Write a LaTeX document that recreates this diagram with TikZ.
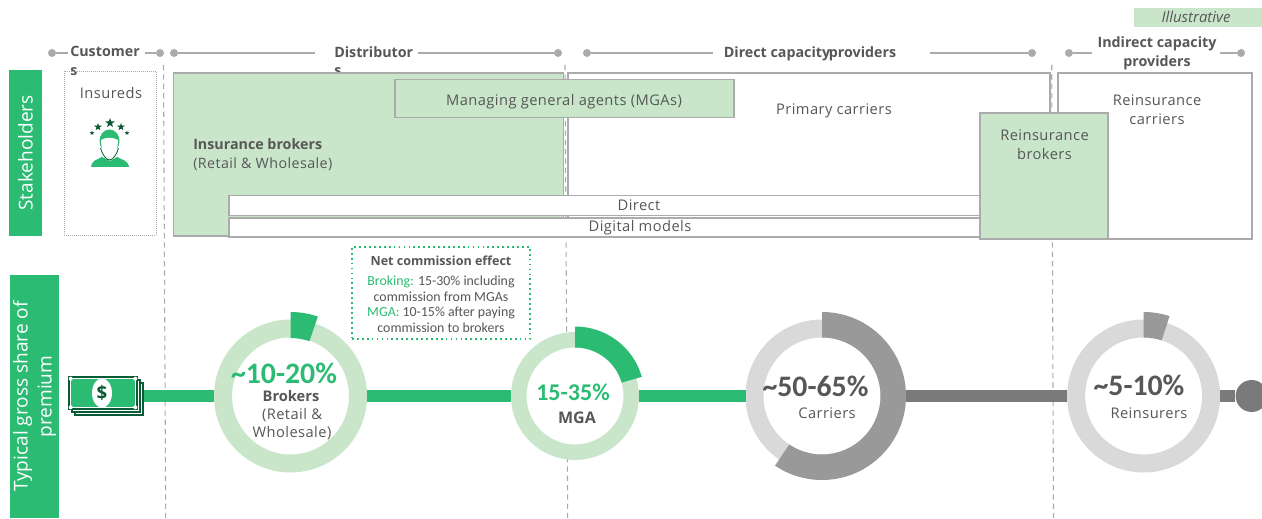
\documentclass[tikz,border=0pt]{standalone}
\usepackage{fontspec}
\setmainfont{Open Sans}
\newfontfamily\calfont{Carlito}
\newfontfamily\capfont[LetterSpace=3]{Open Sans}
\usepackage{tikz}
\usetikzlibrary{calc,positioning,shapes.geometric}
\definecolor{bcggreen}{HTML}{2BBB73}
\definecolor{palegreen}{HTML}{C9E6CB}
\definecolor{deepgreen}{HTML}{0B5A36}
\definecolor{inktext}{HTML}{575757}
\definecolor{boxline}{HTML}{ABABAB}
\definecolor{ringlight}{HTML}{D9D9D9}
\definecolor{ringdark}{HTML}{999999}
\definecolor{bandgray}{HTML}{7A7A7A}
\tikzset{wh/.style 2 args={minimum width=#1*0.75pt, minimum height=#2*0.75pt}}
\tikzstyle{sidebar} = [fill=bcggreen, text=white, rotate=90, inner sep=0pt, align=center, font=\fontsize{14.3}{18}\selectfont]
\tikzstyle{plainbox} = [rectangle, draw=boxline, fill=white, line width=0.9pt, inner sep=0pt]
\tikzstyle{greenbox} = [rectangle, draw=boxline, fill=palegreen, line width=0.9pt, inner sep=0pt]
\tikzstyle{caption} = [text=inktext, align=center, inner sep=0pt, font=\fontsize{11}{14}\selectfont\capfont]
\tikzstyle{heading} = [text=inktext, align=left, inner sep=0pt, font=\fontsize{10.7}{14}\selectfont\bfseries]
\tikzstyle{hdot} = [circle, fill=boxline, minimum size=6pt, inner sep=0pt]
\tikzstyle{hline} = [draw=boxline, line width=0.9pt]
\tikzstyle{divider} = [draw=boxline, line width=0.8pt, dash pattern=on 4pt off 3pt]
\tikzstyle{ring} = [circle, fill=white, line width=13.5pt, minimum size=101.25pt, inner sep=0pt]
\tikzstyle{band} = [line width=8.5pt, draw=bcggreen]
\tikzstyle{grayband} = [line width=8.5pt, draw=bandgray]
\tikzstyle{bill} = [rectangle, draw=deepgreen, fill=white, line width=0.9pt, inner sep=0pt]
\tikzstyle{bigpct} = [inner sep=0pt, font=\fontsize{22.3}{24}\selectfont\calfont\bfseries]
\tikzstyle{starmark} = [star, star points=5, star point ratio=2.4, fill=deepgreen, inner sep=0pt]
\newcommand{\ringpart}[6]{
	\fill[#6] ($(#1.center)+(#2:#5)$) arc (#2:#3:#5) -- ($(#1.center)+(#3:#4)$) arc (#3:#2:#4) -- cycle;
}
\begin{document}
\begin{tikzpicture}[x=0.75pt, y=0.75pt]
	\clip (0,0) rectangle (1262,518);
	\fill[white] (0,0) rectangle (1262,518);

	% dividers
	\coordinate (divAtop) at (163.5,453);
	\coordinate (divAbot) at (165.7,0);
	\coordinate (divBtop) at (565,453);
	\coordinate (divBbot) at (567.7,0);
	\coordinate (divCtop) at (1051.7,453);
	\coordinate (divCbot) at (1053.5,0);
	\draw[divider] (divAtop) -- (divAbot);
	\draw[divider] (divBtop) -- (divBbot);
	\draw[divider] (divCtop) -- (divCbot);

	% header row
	\node[heading, anchor=north west] (customers) at (70,472) {Customer\\s};
	\node[heading, anchor=north west] (distributors) at (334,472) {Distributor\\s};
	\node[heading] (direct) at (810,464) {Direct capacity\hspace{-1pt}providers};
	\node[heading, align=center] (indirect) at (1157,465) {Indirect capacity\\providers};
	\node[hdot] (custL) at (52,465) {};
	\node[hdot] (custR) at (160,465) {};
	\node[hdot] (distL) at (174,465) {};
	\node[hdot] (distR) at (558,465) {};
	\node[hdot] (dirL) at (587,465) {};
	\node[hdot] (dirR) at (1032,465) {};
	\node[hdot] (indL) at (1069,465) {};
	\node[hdot] (indR) at (1241,465) {};
	\coordinate (custLe) at (68,465);
	\coordinate (custRe) at (145,465);
	\coordinate (distLe) at (315,465);
	\coordinate (distRe) at (418,465);
	\coordinate (dirLe) at (713,465);
	\coordinate (dirRe) at (930,465);
	\coordinate (indLe) at (1092,465);
	\coordinate (indRe) at (1220,465);
	\draw[hline] (custL) -- (custLe);
	\draw[hline] (custRe) -- (custR);
	\draw[hline] (distL) -- (distLe);
	\draw[hline] (distRe) -- (distR);
	\draw[hline] (dirL) -- (dirLe);
	\draw[hline] (dirRe) -- (dirR);
	\draw[hline] (indL) -- (indLe);
	\draw[hline] (indRe) -- (indR);

	\node[rectangle, fill=palegreen, wh={128}{19}, inner sep=0pt] (illus) at (1198,500.5) {};
	\node[inner sep=0pt, text=inktext, font=\fontsize{11.2}{12}\selectfont\itshape] (illustext) at (1196,501) {Illustrative};

	% side bars
	\node[sidebar, wh={166}{33}] (stake) at (25.5,365) {Stakeholders};
	\node[sidebar, wh={243}{49}] (share) at (34.5,121.5) {Typical gross share of\\premium};

	% stakeholder boxes
	\node[rectangle, draw=boxline, densely dotted, line width=0.5pt, wh={92}{164}, inner sep=0pt] (insuredbox) at (110,365) {};
	\node[caption] (insureds) at (111,425) {Insureds};
	\node[greenbox, wh={390.5}{163}] (brokerbox) at (368.5,363.5) {};
	\node[plainbox, wh={482}{163}] (primary) at (809,363.5) {};
	\node[plainbox, wh={194}{166}] (reincar) at (1155,362) {};
	\node[greenbox, wh={339}{38}] (mgabox) at (564.5,419.5) {};
	\node[plainbox, wh={751}{20}] (directbar) at (604.5,312.5) {};
	\node[plainbox, wh={751}{19}] (digitalbar) at (604.5,290.5) {};
	\node[greenbox, wh={128}{126}] (reinbro) at (1044,342) {};
	\node[heading, anchor=west] (insbro) at (193,363.5) {Insurance brokers\\[0pt]\mdseries\capfont(Retail \& Wholesale)};
	\node[caption] (mgatext) at (564,416) {Managing general agents (MGAs)};
	\node[caption] (primtext) at (834,407) {Primary carriers};
	\node[caption] (reincartext) at (1157,408.5) {Reinsurance\\carriers};
	\node[caption] (reinbrotext) at (1044.5,373) {Reinsurance\\brokers};
	\node[caption] (directtext) at (639,313) {Direct};
	\node[caption] (digitaltext) at (640,290) {Digital models};

	% insured icon
	\node[starmark, minimum size=7.5pt] (star0) at (110,395) {};
	\node[starmark, minimum size=6pt] (star1) at (98,391) {};
	\node[starmark, minimum size=6pt] (star2) at (121,391) {};
	\node[starmark, minimum size=3.6pt] (star3) at (92,385) {};
	\node[starmark, minimum size=3.6pt] (star4) at (127,385) {};
	\fill[bcggreen] (91,351) .. controls (92,358) and (97,358) .. (102,361) -- (110,357) -- (117,361) .. controls (122,358) and (128,358) .. (129,351) -- cycle;
	\fill[bcggreen] (109.5,377) ellipse (10 and 11.5);
	\fill[white] (101,378) .. controls (106,381) and (112,381) .. (118,378) .. controls (118,368) and (114,361) .. (109.5,361) .. controls (105,361) and (101,368) .. (101,378) -- cycle;
	\draw[deepgreen, line width=0.6pt] (100.5,370) .. controls (102,364) and (106,358) .. (109.5,358) .. controls (113,358) and (117,364) .. (118.5,370);

	% premium flow
	\node[ring, draw=palegreen] (brokers) at (290.5,122) {};
	\node[ring, draw=palegreen, line width=11.6pt, minimum size=84.4pt] (mga) at (575,122) {};
	\node[ring, draw=ringlight] (carriers) at (822,122) {};
	\node[ring, draw=ringlight] (reinsurers) at (1143.6,122) {};
	\node[circle, fill=bandgray, minimum size=24pt, inner sep=0pt] (flowend) at (1251.6,122) {};
	\node[bill, wh={68}{32}] (billC) at (109,119) {};
	\node[bill, wh={68}{32}] (billB) at (106,122) {};
	\node[bill, wh={68}{32}] (billA) at (103,125) {};
	\node[rectangle, fill=bcggreen, wh={64}{28}, inner sep=0pt] (billface) at (103,125) {};
	\fill[white] (billface.north west) circle (2) (billface.north east) circle (2) (billface.south west) circle (2) (billface.south east) circle (2);
	\node[ellipse, fill=white, minimum width=15pt, minimum height=22pt, inner sep=0pt, text=deepgreen, font=\fontsize{14}{14}\selectfont\bfseries] (dollar) at (102,125) {\$};
	\draw[band] (billC.east |- brokers.west) -- (brokers.west);
	\draw[band] (brokers.east) -- (mga.west);
	\draw[band] (mga.east) -- (carriers.west);
	\draw[grayband] (carriers.east) -- (reinsurers.west);
	\draw[grayband] (reinsurers.east) -- (flowend);
	\ringpart{brokers}{90}{71}{58}{84}{bcggreen}
	\ringpart{mga}{90}{16}{48.5}{69.5}{bcggreen}
	\ringpart{carriers}{90}{-124}{58.5}{84}{ringdark}
	\ringpart{reinsurers}{90}{72}{58.5}{84}{ringdark}

	\node[bigpct, text=bcggreen] (brokerspct) at (284,145) {\char`\~10-20\%};
	\node[heading, align=center, font=\fontsize{11}{14}\selectfont\bfseries] (brokerstext) at (291,122) {Brokers};
	\node[caption] (brokerssub) at (292,94) {(Retail \&\\Wholesale)};
	\node[bigpct, text=bcggreen, font=\fontsize{18}{20}\selectfont\calfont\bfseries] (mgapct) at (573,126) {15-35\%};
	\node[heading, align=center, font=\fontsize{12}{14}\selectfont\bfseries] (mgatext2) at (577,100) {MGA};
	\node[bigpct, text=inktext] (carrierspct) at (815.5,132) {\char`\~50-65\%};
	\node[caption] (carrierstext) at (827,105) {Carriers};
	\node[bigpct, text=inktext] (reinspct) at (1139,133) {\char`\~5-10\%};
	\node[caption] (reinstext) at (1149,105) {Reinsurers};

	% commission note
	\node[rectangle, draw=bcggreen, line width=1.3pt, dash pattern=on 1.3pt off 2.4pt, wh={178}{92}, inner sep=0pt] (notebox) at (441,225) {};
	\node[heading, font=\fontsize{9.4}{10}\selectfont\bfseries] (notetitle) at (441,257) {Net commission effect};
	\node[below=7pt of notetitle, text=inktext, align=center, inner sep=0pt, font=\fontsize{10.4}{11.85}\selectfont\calfont] (notebody) {\textcolor{bcggreen}{Broking:} 15-30\% including\\commission from MGAs\\\textcolor{bcggreen}{MGA:} 10-15\% after paying\\commission to brokers};
\end{tikzpicture}
\end{document}
